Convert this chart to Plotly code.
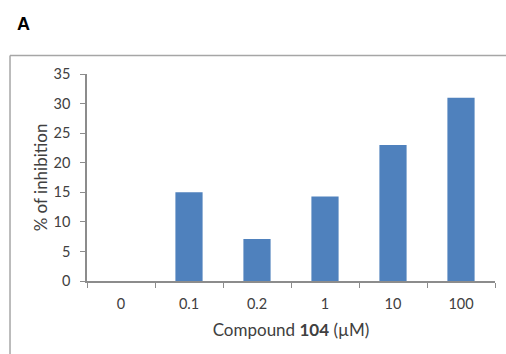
import plotly.graph_objects as go

# Concentrations of compound 104 (µM) and measured inhibition (%)
concentrations = ["0", "0.1", "0.2", "1", "10", "100"]
inhibition = [0, 15, 7.1, 14.3, 23, 31]
y_ticks = [0, 5, 10, 15, 20, 25, 30, 35]

FONT = "Lato, Open Sans, sans-serif"
AXIS_GREY = "#8c8c8c"
TEXT = "#404040"

fig = go.Figure(
    go.Bar(
        x=concentrations,
        y=inhibition,
        width=0.4,
        marker=dict(color="#4f81bd", line=dict(width=0)),
    )
)

fig.update_layout(
    width=506,
    height=354,
    margin=dict(l=87, r=11, t=74, b=73),
    paper_bgcolor="white",
    plot_bgcolor="white",
    showlegend=False,
    font=dict(family=FONT, size=14, color=TEXT),
    xaxis=dict(
        type="category",
        showline=True,
        linecolor=AXIS_GREY,
        linewidth=1.5,
        ticks="outside",
        tickson="boundaries",
        ticklen=5,
        tickcolor=AXIS_GREY,
        showgrid=False,
        ticklabelstandoff=9,
        tickfont=dict(size=14.5, color=TEXT),
        title=dict(
            text="Compound <b>104</b> (µM)",
            font=dict(size=17, color=TEXT),
            standoff=13,
        ),
    ),
    yaxis=dict(
        range=[0, 35],
        tickvals=y_ticks,
        showline=True,
        linecolor=AXIS_GREY,
        linewidth=1.5,
        ticks="outside",
        ticklen=5,
        tickcolor=AXIS_GREY,
        showgrid=False,
        zeroline=False,
        ticklabelstandoff=7,
        tickfont=dict(size=14.5, color=TEXT),
        title=dict(text="% of inhibition", font=dict(size=17, color=TEXT), standoff=2),
    ),
    shapes=[
        # panel frame: top and left edges
        dict(type="line", xref="paper", yref="paper",
             x0=-0.1887, x1=1.03, y0=1.0894, y1=1.0894,
             line=dict(color="#a6a6a6", width=1.5)),
        dict(type="line", xref="paper", yref="paper",
             x0=-0.1887, x1=-0.1887, y0=1.0894, y1=-0.4,
             line=dict(color="#a6a6a6", width=1.5)),
    ],
    annotations=[
        dict(text="<b>A</b>", xref="paper", yref="paper",
             x=-0.156, y=1.242, xanchor="center", yanchor="middle",
             showarrow=False,
             font=dict(family="Liberation Sans, Arial, sans-serif", size=18, color="black")),
    ],
)

fig.write_html("out.html")
